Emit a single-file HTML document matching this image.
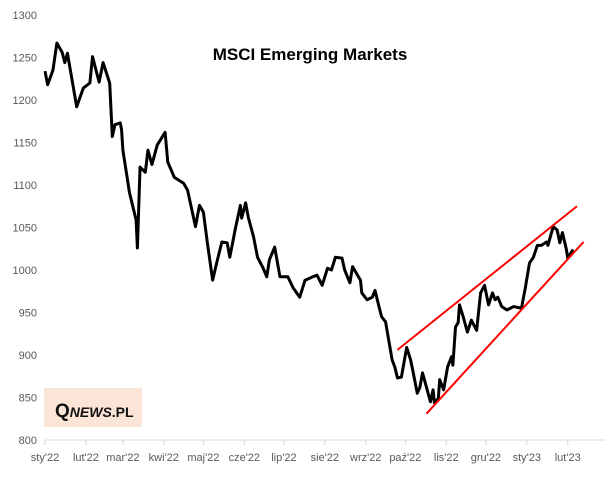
<!DOCTYPE html>
<html><head><meta charset="utf-8"><style>
body{margin:0;background:#fff;font-family:"Liberation Sans",sans-serif}
svg text{font-family:"Liberation Sans",sans-serif}
</style></head><body>
<svg width="612" height="473">
<g id="yax"></g>
<g id="xax"></g>
<text x="310" y="60" text-anchor="middle" font-size="17" font-weight="bold" fill="#000">MSCI Emerging Markets</text>
<rect x="44" y="388" width="98" height="39" fill="#fbe5d6"/>
<text x="55" y="417" font-size="19" font-family="Liberation Serif" font-weight="bold" fill="#111">Q<tspan font-size="14" font-family="Liberation Sans" font-style="italic">NEWS</tspan><tspan font-size="14">.PL</tspan></text>
<g id="plot"></g>
</svg>
<script>
const days=[0,2,6,9,13,15,17,24,29,34,36,41,44,49,51,53,57,58,59,64,69,70,72,76,78,81,85,91,93,98,105,108,114,117,120,123,127,130,134,138,140,144,148,149,152,154,158,161,165,168,170,174,178,184,188,193,197,203,206,210,214,217,220,225,227,231,233,239,240,244,248,250,253,255,258,260,263,265,267,270,274,277,279,282,284,286,289,292,294,295,298,299,302,305,308,309,311,313,314,317,320,323,327,330,333,336,339,341,343,346,350,355,361,364,367,370,373,376,380,381,385,388,390,392,395,396,400];
const values=[1234,1218,1235,1267,1256,1244,1255,1192,1214,1220,1251,1221,1244,1220,1157,1171,1173,1165,1141,1091,1059,1026,1121,1115,1141,1124,1147,1162,1127,1109,1102,1094,1051,1076,1068,1032,988,1008,1033,1032,1015,1047,1076,1061,1079,1062,1039,1015,1003,992,1012,1027,992,992,979,968,988,992,994,982,1002,1000,1015,1014,1000,985,1004,988,973,965,968,976,957,945,939,921,894,886,873,874,909,894,879,855,862,879,862,845,859,844,849,871,859,886,898,888,933,938,959,944,927,941,929,973,982,959,973,965,968,957,953,957,955,980,1008,1015,1029,1029,1033,1029,1051,1047,1032,1044,1024,1014,1024];
const upperLine=[[267,906],[403,1075]];
const lowerLine=[[289,831],[408,1033]];
const yTicks=[800,850,900,950,1000,1050,1100,1150,1200,1250,1300];
const monthLabels=["sty'22","lut'22","mar'22","kwi'22","maj'22","cze'22","lip'22","sie'22","wrz'22","paź'22","lis'22","gru'22","sty'23","lut'23"];
const monthDays=[0,31,59,90,120,151,181,212,243,273,304,334,365,396];
const NS="http://www.w3.org/2000/svg";
const X=d=>45+d*1.32;
const Y=v=>440-(v-800)*0.85;
function mk(tag,attrs,parent){const e=document.createElementNS(NS,tag);for(const k in attrs)e.setAttribute(k,attrs[k]);parent.appendChild(e);return e;}
const yax=document.getElementById('yax'),xax=document.getElementById('xax'),plot=document.getElementById('plot');
yTicks.forEach(v=>{const t=mk('text',{x:37,y:Y(v)+4,'text-anchor':'end','font-size':11,fill:'#595959'},yax);t.textContent=v;

});
const ax=mk('line',{x1:45,x2:605,y1:440,y2:440,stroke:'#d9d9d9','stroke-width':1},xax);


monthDays.forEach((d,i)=>{const tk=mk('line',{x1:X(d),x2:X(d),y1:440,y2:445,stroke:'#d9d9d9'},xax);


const t=mk('text',{x:X(d),y:461,'text-anchor':'middle','font-size':11,fill:'#595959'},xax);t.textContent=monthLabels[i];

});
const p=mk('polyline',{points:days.map((d,i)=>X(d)+','+Y(values[i])).join(' '),fill:'none',stroke:'#000','stroke-width':3,'stroke-linejoin':'round'},plot);


[upperLine,lowerLine].forEach((L,i)=>{const l=mk('line',{x1:X(L[0][0]),y1:Y(L[0][1]),x2:X(L[1][0]),y2:Y(L[1][1]),stroke:'#f00','stroke-width':2},plot);

});
</script>
</body></html>
